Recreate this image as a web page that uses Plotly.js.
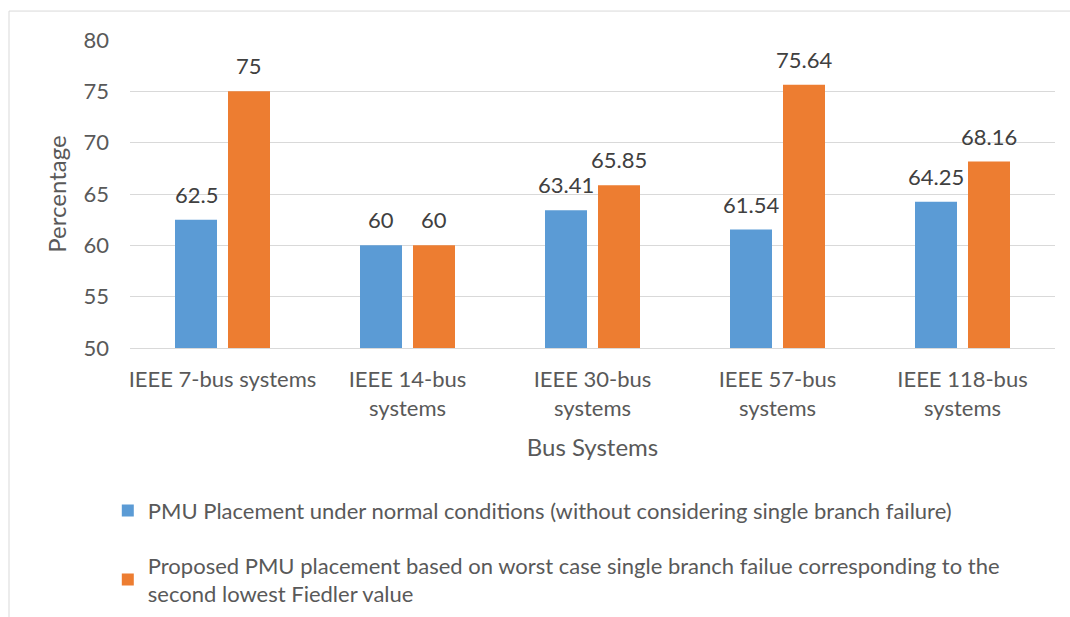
<!DOCTYPE html>
<html>
<head>
<meta charset="utf-8">
<script src="https://cdn.plot.ly/plotly-3.0.1.min.js"></script>
<style>html,body{margin:0;padding:0;background:#fff;}#chart{width:1070px;height:617px;}</style>
</head>
<body>
<div id="chart"></div>
<script>
const categories = ["IEEE 7-bus systems", "IEEE 14-bus<br>systems", "IEEE 30-bus<br>systems", "IEEE 57-bus<br>systems", "IEEE 118-bus<br>systems"];
const normalValues = [62.5, 60, 63.41, 61.54, 64.25];
const proposedValues = [75, 60, 65.85, 75.64, 68.16];
const normalLabels = ["62.5", "60", "63.41", "61.54", "64.25"];
const proposedLabels = ["75", "60", "65.85", "75.64", "68.16"];
const seriesNames = [
  "PMU Placement under normal conditions (without considering single branch failure)",
  "Proposed PMU placement based on worst case single branch failue corresponding to the<br>second lowest Fiedler value"
];
const yTicks = [50, 55, 60, 65, 70, 75, 80];

const FONT = "Lato, 'Open Sans', sans-serif";
const TXT = "#595959";

const traces = [
  {type: "bar", name: seriesNames[0], x: categories, y: normalValues, marker: {color: "#5B9BD5"}, legendgroup: "a", hoverinfo: "y"},
  {type: "bar", name: seriesNames[1], x: categories, y: proposedValues, marker: {color: "#ED7D31"}, legendgroup: "b", hoverinfo: "y"}
];

const annotations = [];
categories.forEach((c, i) => {
  annotations.push({x: c, y: normalValues[i], xref: "x", yref: "y", text: normalLabels[i], showarrow: false, yanchor: "bottom", xshift: -26.5, yshift: 10, font: {family: FONT, size: 22, color: "#404040"}});
  annotations.push({x: c, y: proposedValues[i], xref: "x", yref: "y", text: proposedLabels[i], showarrow: false, yanchor: "bottom", xshift: 26.5, yshift: 10, font: {family: FONT, size: 22, color: "#404040"}});
});

const layout = {
  width: 1070, height: 617,
  margin: {l: 130, r: 15, t: 40, b: 269, autoexpand: false},
  paper_bgcolor: "#fff", plot_bgcolor: "#fff",
  font: {family: FONT, size: 22, color: TXT},
  barmode: "group", bargap: 0.427, bargroupgap: 0.2075,
  xaxis: {
    type: "category", showgrid: false, showline: true, linecolor: "#D9D9D9", linewidth: 1,
    ticks: "", tickfont: {family: FONT, size: 22, color: TXT}, ticklabelstandoff: 12,
    title: {text: "Bus Systems", font: {family: FONT, size: 24, color: TXT}, standoff: 19}
  },
  yaxis: {
    range: [50, 80], tickvals: yTicks, ticktext: yTicks.map(String),
    showgrid: true, gridcolor: "#D9D9D9", gridwidth: 1, zeroline: false, showline: false,
    ticks: "", tickfont: {family: FONT, size: 22, color: TXT}, ticklabelstandoff: 20,
    title: {text: "Percentage", font: {family: FONT, size: 24, color: TXT}, standoff: 10}
  },
  showlegend: true,
  legend: {
    orientation: "v", x: -0.024, xanchor: "left", y: -0.46, yanchor: "top",
    font: {family: FONT, size: 22, color: TXT}, tracegroupgap: 23, traceorder: "grouped",
    bgcolor: "rgba(0,0,0,0)"
  },
  annotations: annotations,
  shapes: [{type: "rect", xref: "paper", yref: "paper", x0: -0.1308, x1: 1.03, y0: -1.0, y1: 1.094, line: {color: "#D9D9D9", width: 1}, fillcolor: "rgba(0,0,0,0)", layer: "below"}]
};

Plotly.newPlot("chart", traces, layout, {displayModeBar: false, staticPlot: true});
</script>
</body>
</html>
